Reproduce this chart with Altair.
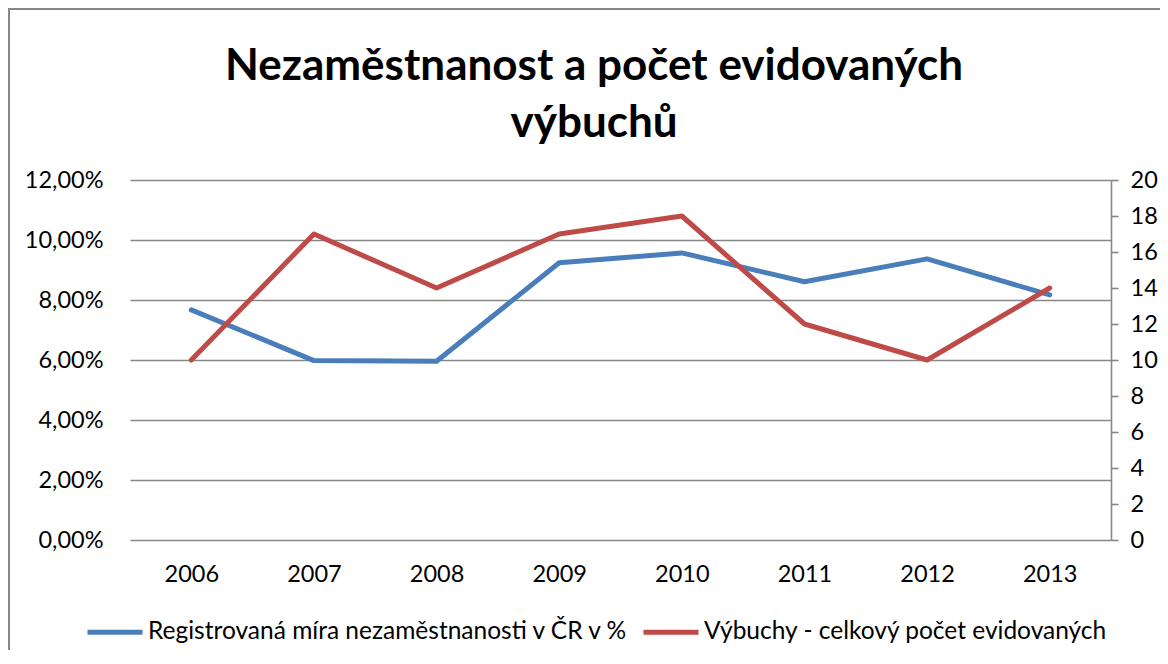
import altair as alt
import pandas as pd

years = ["2006", "2007", "2008", "2009", "2010", "2011", "2012", "2013"]
unemployment = [0.0767, 0.0598, 0.0596, 0.0924, 0.0957, 0.0861, 0.0937, 0.0817]
explosions = [10, 17, 14, 17, 18, 12, 10, 14]
series_names = ["Registrovaná míra nezaměstnanosti v ČR v %",
                "Výbuchy - celkový počet evidovaných"]
series_colors = ["#4A7EBB", "#BE4B48"]
title_lines = ["Nezaměstnanost a počet evidovaných", "výbuchů"]
left_ticks = [0, 0.02, 0.04, 0.06, 0.08, 0.10, 0.12]
right_ticks = [0, 2, 4, 6, 8, 10, 12, 14, 16, 18, 20]

df = pd.DataFrame({"year": years, "unemp": unemployment, "blasts": explosions,
                   "s1": [series_names[0]] * len(years),
                   "s2": [series_names[1]] * len(years)})

W, H = 981, 360
GRAY = "#878787"
FONT = "Lato"
AX_FS = 23.5

color_scale = alt.Scale(domain=series_names, range=series_colors)
legend = alt.Legend(
    title=None, orient="none", direction="horizontal", legendX=-45, legendY=422,
    symbolType="stroke", symbolSize=3025, symbolStrokeWidth=5,
    labelFont=FONT, labelFontSize=24.5, labelColor="#000", labelLimit=700,
    labelOffset=3, columnPadding=4,
)

x_enc = alt.X(
    "year:N", sort=years, scale=alt.Scale(type="point", padding=0.5),
    axis=alt.Axis(title=None, labelAngle=0, ticks=False, domain=False, grid=False,
                  labelPadding=22, labelFontSize=AX_FS, labelFont=FONT, labelColor="#000"),
)

base = alt.Chart(df)

blue = base.mark_line(strokeWidth=5, strokeCap="round", strokeJoin="round").encode(
    x=x_enc,
    y=alt.Y("unemp:Q", scale=alt.Scale(domain=[0, 0.12]),
            axis=alt.Axis(title=None, orient="left", values=left_ticks,
                          labelExpr="replace(format(datum.value, '.2%'), '.', ',')",
                          grid=True, gridColor=GRAY, gridWidth=1.6,
                          domain=False, ticks=False, tickSize=0, labelPadding=27,
                          labelFont=FONT, labelFontSize=AX_FS, labelColor="#000")),
    color=alt.Color("s1:N", scale=color_scale, legend=legend),
)

red = base.mark_line(strokeWidth=5, strokeCap="round", strokeJoin="round").encode(
    x=x_enc,
    y=alt.Y("blasts:Q", scale=alt.Scale(domain=[0, 20]),
            axis=alt.Axis(title=None, orient="right", values=right_ticks, grid=False,
                          domain=True, domainColor=GRAY, domainWidth=1.6,
                          ticks=True, tickSize=7, tickColor=GRAY, tickWidth=1.6,
                          labelPadding=12, labelFont=FONT, labelFontSize=AX_FS,
                          labelColor="#000")),
    color=alt.Color("s2:N", scale=color_scale, legend=legend),
)

frame_data = alt.Data(values=[{"f": 1}])
frame_top = alt.Chart(frame_data).mark_rule(stroke=GRAY, strokeWidth=2).encode(
    x=alt.value(-122), x2=alt.value(1100), y=alt.value(-171)
)
frame_left = alt.Chart(frame_data).mark_rule(stroke=GRAY, strokeWidth=2).encode(
    x=alt.value(-121), y=alt.value(-172), y2=alt.value(600)
)

title1 = alt.Chart(alt.Data(values=[{"t": title_lines[0]}])).mark_text(
    font=FONT, fontSize=44, fontWeight="bold", color="#000",
    align="center", baseline="alphabetic"
).encode(text="t:N", x=alt.value(464), y=alt.value(-100))

title2 = alt.Chart(alt.Data(values=[{"t": title_lines[1]}])).mark_text(
    font=FONT, fontSize=44, fontWeight="bold", color="#000",
    align="center", baseline="alphabetic"
).encode(text="t:N", x=alt.value(464), y=alt.value(-43))

chart = alt.layer(frame_top, frame_left, title1, title2, blue, red).resolve_scale(
    y="independent"
).properties(
    width=W, height=H,
    padding={"left": 122, "top": 172, "right": 49, "bottom": 110},
    autosize=alt.AutoSizeParams(type="none"),
).configure_view(strokeWidth=0)

chart.save("out.html", embed_options={"renderer": "svg", "actions": False})
